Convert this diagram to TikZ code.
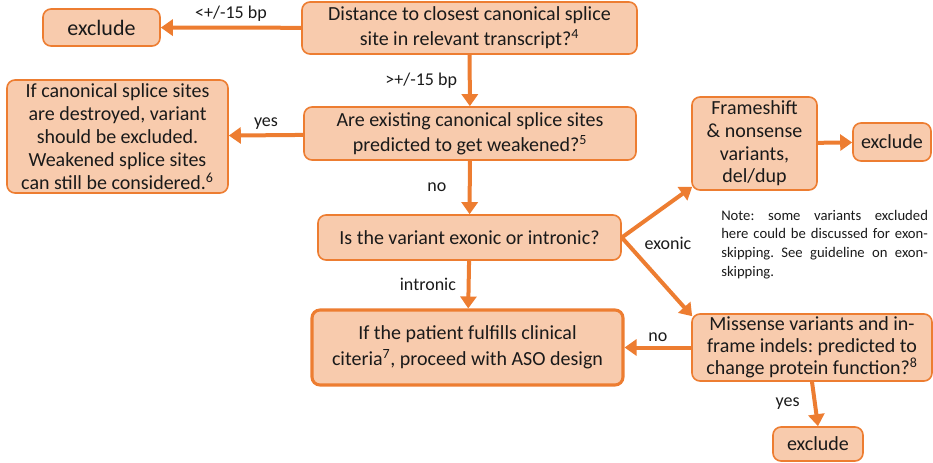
\documentclass[tikz,border=0pt]{standalone}
\usepackage{fontspec}
\setmainfont{Carlito}
\usetikzlibrary{arrows.meta,calc}
\definecolor{boxfill}{HTML}{F8CBAD}
\definecolor{boxline}{HTML}{ED7D31}
\definecolor{txt}{HTML}{1A1A1A}
\tikzset{
  box/.style={draw=boxline, fill=boxfill, line width=1.2pt, rounded corners=6pt,
    align=center, inner sep=0pt, text=txt, font=\fontsize{15}{18.75}\selectfont},
  arr/.style={draw=boxline, line width=3pt, -{Triangle[length=9pt,width=12pt]}},
  lbl/.style={text=txt, font=\fontsize{13.5}{16}\selectfont, inner sep=2pt},
}
\begin{document}
\frenchspacing
\begin{tikzpicture}[x=0.75pt,y=-0.75pt]
\useasboundingbox (0,0) rectangle (933,462);
\node[box, minimum width=87.75pt, minimum height=27.75pt, font=\fontsize{16.5}{19}\selectfont] (excl1) at (101.5,27.5) {exclude};
\node[box, minimum width=251.25pt, minimum height=39pt] (dist) at (469.5,28) {Distance to closest canonical splice\\site in relevant transcript?\textsuperscript{4}};
\node[box, minimum width=249pt, minimum height=39.75pt] (are) at (470,133.5) {Are existing canonical splice sites\\predicted to get weakened?\textsuperscript{5}};
\node[box, minimum width=165.75pt, minimum height=84.75pt, font=\fontsize{15}{17.2}\selectfont] (ifcan) at (117.5,136.5) {If canonical splice sites\\are destroyed, variant\\should be excluded.\\Weakened splice sites\\can still be considered.\textsuperscript{6}};
\node[box, minimum width=227.25pt, minimum height=33.75pt] (isvar) at (469.5,237.5) {Is the variant exonic or intronic?};
\node[box, line width=2.3pt, minimum width=233.25pt, minimum height=56.25pt, font=\fontsize{15}{19.5}\selectfont] (patient) at (467.5,347.5) {If the patient fulfills clinical\\citeria\textsuperscript{7}, proceed with ASO design};
\node[box, minimum width=93.75pt, minimum height=69.75pt, font=\fontsize{15}{17}\selectfont] (frame) at (754.5,143.5) {Frameshift\\\&{} nonsense\\variants,\\del/dup};
\node[box, minimum width=58.5pt, minimum height=28.5pt] (excl2) at (892,142) {exclude};
\node[box, minimum width=180pt, minimum height=50.25pt, font=\fontsize{15}{16.5}\selectfont] (miss) at (812,347.5) {Missense variants and in-\\frame indels: predicted to\\change protein function?\textsuperscript{8}};
\node[box, minimum width=67.5pt, minimum height=25.5pt] (excl3) at (818,444) {exclude};
\node[text=txt, text width=155pt, align=justify, inner sep=0pt, anchor=north west,
  font=\fontsize{11}{13.9}\selectfont] (note) at (721,210) {Note: some variants excluded\linebreak here could be discussed for exon-\linebreak skipping. See guideline on exon-\linebreak skipping.};
\draw[arr] (dist) -- node[lbl, above, yshift=1pt] {<+/-15 bp} (excl1);
\draw[arr] (dist) -- node[lbl, left, xshift=-6pt] {>+/-15 bp} (are);
\draw[arr] (are) -- node[lbl, above, yshift=1pt] {yes} (ifcan);
\draw[arr] (are) -- node[lbl, left, xshift=-14pt] {no} (isvar);
\draw[arr] (isvar) -- node[lbl, left, xshift=-6pt] {intronic} (patient);
\draw[arr] (frame) -- (excl2);
\draw[arr] (isvar.east) -- ($(frame.south west)+(1,-4)$);
\draw[arr] (isvar.east) -- ($(miss.north west)+(1,3)$);
\node[lbl] (exonic) at (668,243) {exonic};
\draw[arr] (miss.west) -- node[lbl, above, yshift=1pt] {no} (patient.east);
\draw[arr] (miss.south) -- node[lbl, left, xshift=-8pt] {yes} (excl3.north);
\end{tikzpicture}
\end{document}
